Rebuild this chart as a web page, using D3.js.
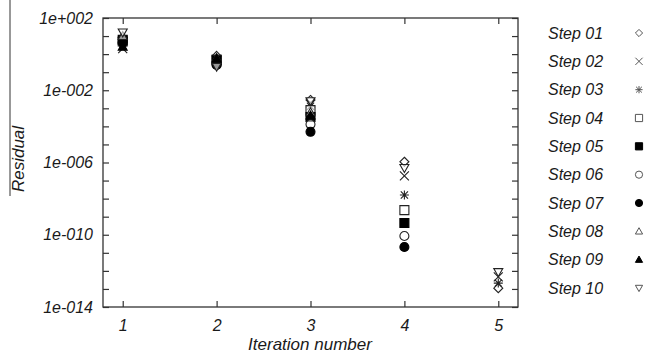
<!DOCTYPE html>
<html lang="en">
<head>
<meta charset="UTF-8">
<title>Residual vs iteration</title>
<script src="https://d3js.org/d3.v7.min.js"></script>
<style>
    body { margin: 0; background: #fff; }
    text { font-family: "Liberation Sans", Arial, sans-serif; font-style: italic; fill: #1a1a1a; }
    .axis line { stroke: #333; stroke-width: 1.2px; }
    .axis path { display: none; }
</style>
</head>
<body>
<svg width="646" height="361"></svg>
<script>
// ---- data ----
var iterations = [1, 2, 3, 4, 5];
var stepNames = ["Step 01", "Step 02", "Step 03", "Step 04", "Step 05",
                 "Step 06", "Step 07", "Step 08", "Step 09", "Step 10"];

var step01 = [8.0, 0.80, 2.9e-3, 1.1e-6, 1.1e-13];
var step02 = [2.0, 0.35, 2.0e-3, 1.8e-7, 4.6e-13];
var step03 = [3.2, 0.40, 1.3e-3, 1.6e-8, 2.1e-13];
var step04 = [5.0, 0.50, 8.0e-4, 2.3e-9, null];
var step05 = [6.3, 0.45, 3.3e-4, 4.5e-10, null];
var step06 = [4.0, 0.30, 1.3e-4, 8.5e-11, null];
var step07 = [4.5, 0.25, 5.0e-5, 2.1e-11, null];
var step08 = [10, 0.60, 6.0e-4, null, null];
var step09 = [2.5, 0.55, 4.0e-4, null, null];
var step10 = [16, 0.20, 2.5e-3, 5.0e-7, 8.7e-13];
var residuals = [step01, step02, step03, step04, step05, step06, step07, step08, step09, step10];

var yTickExps = d3.range(-14, 3);   // one tick per decade

// marker style per step
var shapes = ["diamond", "times", "star", "square", "square", "circle", "circle", "tri", "tri", "tridown"];
var filled = [false, false, false, false, true, false, true, false, true, false];

var svg = d3.select("svg");

var x = d3.scaleLinear().domain([0.79, 5.21]).range([103, 518]);
var y = d3.scaleLog().domain([1e-14, 1e2]).range([307, 18]);

function fmtExp(v) {
    var e = Math.round(Math.log10(v));
    var s = String(Math.abs(e)).padStart(3, "0");
    return "1e" + (e >= 0 ? "+" : "-") + s;
}

function shapePath(k, h) {
    switch (k) {
        case "diamond": return "M0," + (-h) + "L" + h + ",0L0," + h + "L" + (-h) + ",0Z";
        case "times": return "M" + (-h) + "," + (-h) + "L" + h + "," + h + "M" + (-h) + "," + h + "L" + h + "," + (-h);
        case "star":
            var a = h * 0.8;
            return "M" + (-a) + "," + (-a) + "L" + a + "," + a + "M" + (-a) + "," + a + "L" + a + "," + (-a) +
                   "M0," + (-h) + "V" + h + "M" + (-h) + ",0H" + h;
        case "square": return "M" + (-h) + "," + (-h) + "H" + h + "V" + h + "H" + (-h) + "Z";
        case "circle": return d3.arc()({innerRadius: 0, outerRadius: h, startAngle: 0, endAngle: 2 * Math.PI});
        case "tri": return "M0," + (-h) + "L" + h + "," + (h * 0.75) + "L" + (-h) + "," + (h * 0.75) + "Z";
        case "tridown": return "M0," + h + "L" + h + "," + (-h * 0.75) + "L" + (-h) + "," + (-h * 0.75) + "Z";
    }
}

// ---- axes (ticks inward on all four sides) ----
svg.append("g").attr("class", "axis")
    .attr("transform", "translate(103,0)")
    .call(d3.axisLeft(y)
        .tickValues(yTickExps.map(function (e) { return Math.pow(10, e); }))
        .tickSize(-6).tickPadding(10)
        .tickFormat(function (d) {
            var e = Math.round(Math.log10(d));
            return (e + 14) % 4 === 0 ? fmtExp(d) : "";
        }));

svg.append("g").attr("class", "axis")
    .attr("transform", "translate(518,0)")
    .call(d3.axisRight(y)
        .tickValues(yTickExps.map(function (e) { return Math.pow(10, e); }))
        .tickSize(-6).tickFormat(""));

svg.append("g").attr("class", "axis")
    .attr("transform", "translate(0,307)")
    .call(d3.axisBottom(x).tickValues(iterations).tickSize(-6).tickPadding(13)
        .tickFormat(d3.format("d")));

svg.append("g").attr("class", "axis")
    .attr("transform", "translate(0,18)")
    .call(d3.axisTop(x).tickValues(iterations).tickSize(-6).tickFormat(""));

svg.selectAll(".axis text").style("font-size", "16px").style("font-family", "Liberation Sans, Arial, sans-serif");

// frame
svg.append("rect")
    .attr("x", x.range()[0]).attr("y", y.range()[1])
    .attr("width", x.range()[1] - x.range()[0])
    .attr("height", y.range()[0] - y.range()[1])
    .attr("fill", "none").attr("stroke", "#333").attr("stroke-width", 1.3);

// axis titles
svg.append("text")
    .attr("transform", "rotate(-90)")
    .attr("x", -159).attr("y", 24)
    .attr("text-anchor", "middle")
    .style("font-size", "17px")
    .text("Residual");

svg.append("line")
    .attr("x1", 10).attr("x2", 10).attr("y1", 0).attr("y2", 196)
    .attr("stroke", "#333").attr("stroke-width", 1);

svg.append("text")
    .attr("x", 310).attr("y", 350)
    .attr("text-anchor", "middle")
    .style("font-size", "17px")
    .text("Iteration number");

// ---- points ----
residuals.forEach(function (vals, i) {
    var pts = iterations.map(function (it, j) { return {it: it, v: vals[j]}; })
        .filter(function (d) { return d.v != null; });
    svg.append("g").selectAll("path")
        .data(pts)
        .enter().append("path")
        .attr("transform", function (d) { return "translate(" + x(d.it) + "," + y(d.v) + ")"; })
        .attr("d", shapePath(shapes[i], 4.5))
        .attr("fill", filled[i] ? "#000" : "#fff")
        .attr("fill-opacity", filled[i] || shapes[i] === "times" || shapes[i] === "star" ? 1 : 0.6)
        .attr("stroke", filled[i] ? "#000" : "#222")
        .attr("stroke-width", 1.1);
});

// ---- legend ----
var ly = d3.scalePoint().domain(stepNames).range([33, 288]);

var leg = svg.append("g").selectAll("g")
    .data(stepNames)
    .enter().append("g")
    .attr("transform", function (d) { return "translate(0," + ly(d) + ")"; });

leg.append("text")
    .attr("x", 548).attr("dy", "0.35em")
    .style("font-size", "16px")
    .text(function (d) { return d; });

leg.append("path")
    .attr("transform", "translate(639,0)")
    .attr("d", function (d, i) { return shapePath(shapes[i], 3.6); })
    .attr("fill", function (d, i) { return filled[i] ? "#000" : "none"; })
    .attr("stroke", function (d, i) { return filled[i] ? "#000" : "#555"; })
    .attr("stroke-width", 1);
</script>
</body>
</html>
